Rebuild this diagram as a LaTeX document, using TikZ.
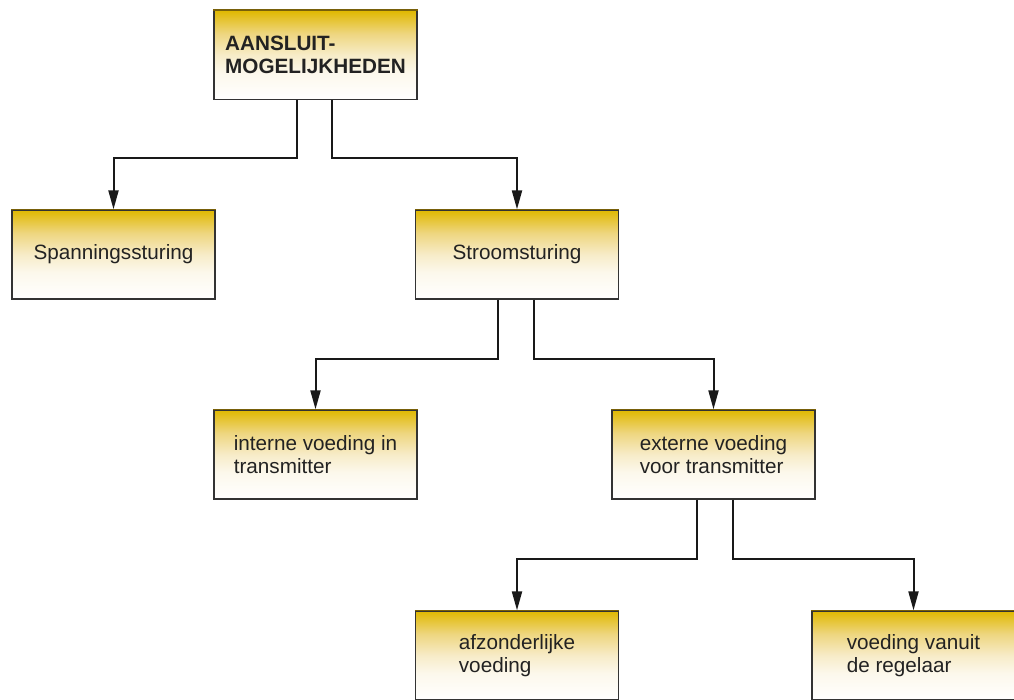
\documentclass[tikz,border=0pt]{standalone}
\usepackage{fontspec}
\setmainfont{Liberation Sans}
\usetikzlibrary{arrows.meta}

\definecolor{goudgeel}{RGB}{224,184,0}
\definecolor{halfgeel}{RGB}{238,214,128}
\definecolor{roomgeel}{RGB}{247,236,200}
\definecolor{lichtgeel}{RGB}{252,248,236}
\definecolor{randbruin}{RGB}{120,96,10}
\definecolor{tekstgrijs}{RGB}{34,34,34}

% verloop van goud (boven) naar wit (onder)
\pgfdeclareverticalshading{goudverloop}{100bp}{color(0bp)=(white); color(25bp)=(white);
  color(40bp)=(lichtgeel); color(50bp)=(roomgeel); color(62bp)=(halfgeel);
  color(75bp)=(goudgeel); color(100bp)=(goudgeel)}

\tikzset{
  blok/.style={draw=black!80, line width=1.3pt, minimum width=203pt, minimum height=89pt,
    shading=goudverloop, align=left, text=tekstgrijs, inner sep=0pt,
    font=\fontsize{20.7}{23}\selectfont},
  lijn/.style={line width=2pt, black!90, -{Triangle[length=19pt,width=10pt]}}
}

\begin{document}
\begin{tikzpicture}[x=1pt,y=1pt]
\useasboundingbox (0,0) rectangle (1014,-699);

% de blokken
\node[blok, font=\fontsize{20.7}{23}\selectfont\bfseries] (aansluit) at (315.5,-55) {AANSLUIT-\\MOGELIJKHEDEN};
\node[blok] (spanning) at (113.5,-254.5) {Spanningssturing};
\node[blok] (stroom) at (517,-254.5) {Stroomsturing};
\node[blok] (intern) at (315.5,-454.5) {interne voeding in\\transmitter};
\node[blok] (extern) at (713.5,-454.5) {externe voeding\\voor transmitter};
\node[blok] (apart) at (517,-655.5) {afzonderlijke\\voeding};
\node[blok] (regelaar) at (913.5,-655.5) {voeding vanuit\\de regelaar};

% donkere bovenrand
\foreach \b in {aansluit,spanning,stroom,intern,extern,apart,regelaar}
  \draw[randbruin, line width=1.4pt] (\b.north west) -- (\b.north east);

% vertakkingen
\draw[lijn] ([xshift=-19pt]aansluit.south) -- ++(0,-58) -| (spanning.north);
\draw[lijn] ([xshift=16pt]aansluit.south) -- ++(0,-58) -| (stroom.north);

\draw[lijn] ([xshift=-19pt]stroom.south) -- ++(0,-59) -| (intern.north);
\draw[lijn] ([xshift=17pt]stroom.south) -- ++(0,-59) -| (extern.north);

\draw[lijn] ([xshift=-17pt]extern.south) -- ++(0,-59) -| (apart.north);
\draw[lijn] ([xshift=19pt]extern.south) -- ++(0,-59) -| (regelaar.north);

\end{tikzpicture}
\end{document}
